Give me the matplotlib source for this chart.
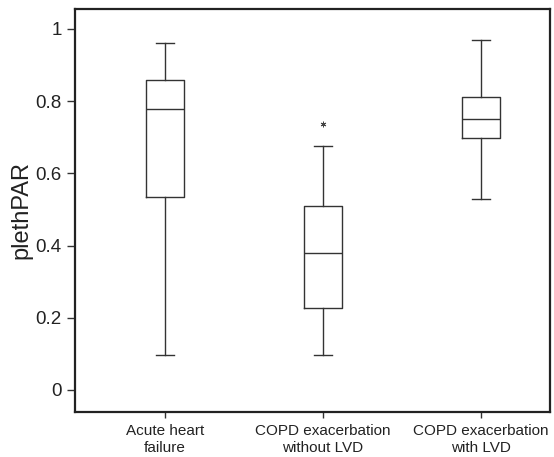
import matplotlib
matplotlib.use("Agg")
import matplotlib.pyplot as plt

plt.rcParams['font.family'] = ['Liberation Sans', 'DejaVu Sans']

# Groups and box statistics
groups = ["Acute heart\nfailure", "COPD exacerbation\nwithout LVD", "COPD exacerbation\nwith LVD"]
whislo = [0.098, 0.098, 0.528]
q1 = [0.535, 0.227, 0.698]
med = [0.778, 0.379, 0.751]
q3 = [0.859, 0.510, 0.812]
whishi = [0.960, 0.676, 0.968]
outliers = [[], [0.737], []]

stats = []
for i in range(len(groups)):
    stats.append({"whislo": whislo[i], "q1": q1[i], "med": med[i],
                  "q3": q3[i], "whishi": whishi[i], "fliers": outliers[i]})

fig = plt.figure(figsize=(5.54, 4.57), dpi=100)
ax = fig.add_axes([0.1354, 0.0985, 0.8574, 0.8818])

lc = "#333333"
ax.bxp(stats, positions=[1, 2, 3], widths=0.245, capwidths=0.115,
       boxprops=dict(color=lc, linewidth=1.0),
       medianprops=dict(color=lc, linewidth=1.0),
       whiskerprops=dict(color=lc, linewidth=1.0),
       capprops=dict(color=lc, linewidth=1.0),
       flierprops=dict(marker=(6, 2, 0), markersize=4, markeredgecolor="#444444",
                       markeredgewidth=0.7, linestyle="none"))

ax.set_xlim(0.43, 3.437)
ax.set_ylim(-0.061, 1.055)
ax.set_yticks([0, 0.2, 0.4, 0.6, 0.8, 1])
ax.set_yticklabels(["0", "0.2", "0.4", "0.6", "0.8", "1"])
ax.set_xticks([1, 2, 3])
ax.set_xticklabels(groups, fontsize=11, color="#222222", linespacing=1.2)
ax.tick_params(axis="y", labelsize=13.5, labelcolor="#222222", length=6,
               width=1, color=lc, direction="out")
ax.tick_params(axis="x", length=4, width=1, color=lc, direction="out", pad=5)
ax.set_ylabel("plethPAR", fontsize=17, color="#222222", labelpad=2)

for s in ax.spines.values():
    s.set_linewidth(1.6)
    s.set_color("#222222")

fig.savefig("out.png", dpi=100)
